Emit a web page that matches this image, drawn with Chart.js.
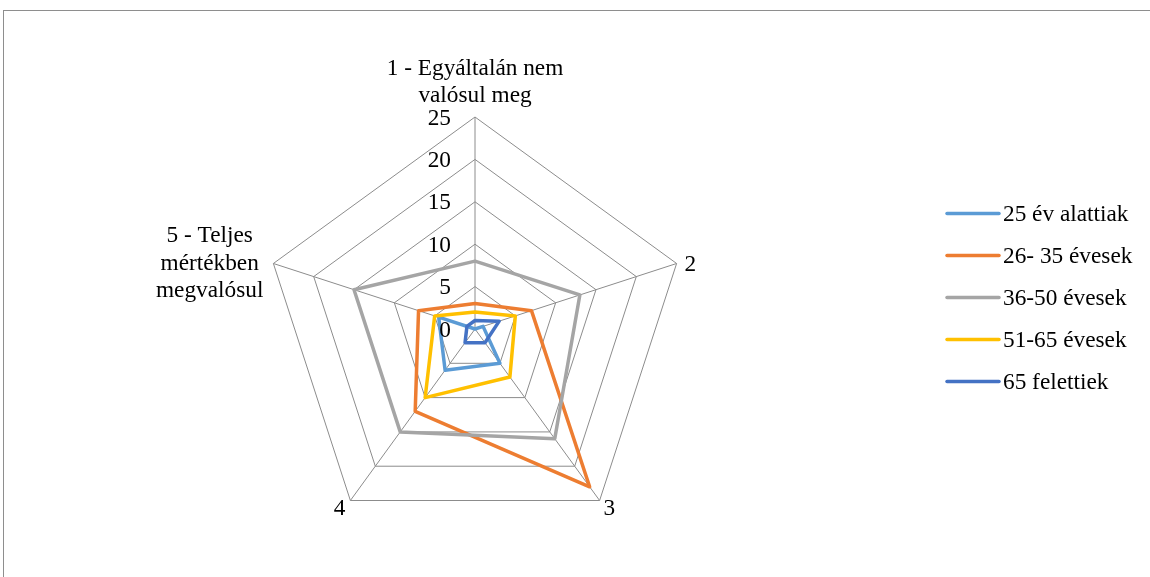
<!DOCTYPE html>
<html>
<head>
<meta charset="utf-8">
<script src="https://cdn.jsdelivr.net/npm/chart.js@4.4.1/dist/chart.umd.min.js"></script>
<style>
  html, body { margin: 0; padding: 0; background: #fff; }
  #wrap { position: relative; width: 1150px; height: 577px; overflow: hidden; }
  #frame { position: absolute; left: 3px; top: 10px; width: 1200px; height: 600px; border-left: 1px solid #8e8e8e; border-top: 1px solid #8e8e8e; }
  canvas { position: absolute; left: 0; top: 0; }
</style>
</head>
<body>
<div id="wrap">
  <div id="frame"></div>
  <canvas id="c" width="1150" height="577"></canvas>
</div>
<script>
// ---- data ----
const categories = [
  ['1 - Egyáltalán nem', 'valósul meg'],
  ['2'],
  ['3'],
  ['4'],
  ['5 - Teljes', 'mértékben', 'megvalósul']
];
const seriesNames = ['25 év alattiak', '26- 35 évesek', '36-50 évesek', '51-65 évesek', '65 felettiek'];
const under25   = [0, 1, 5, 6, 4.5];
const age26to35 = [3, 7, 23, 12, 7];
const age36to50 = [8, 13, 16, 15, 15];
const age51to65 = [2, 5, 7, 10, 5];
const over65    = [1, 3, 2, 2, 1];
const tickValues = [0, 5, 10, 15, 20, 25];
const colors = ['#5B9BD5', '#ED7D31', '#A5A5A5', '#FFC000', '#4472C4'];

const seriesValues = [under25, age26to35, age36to50, age51to65, over65];
const FONT = '23.3px "Liberation Serif", "Times New Roman", serif';
const GRID = '#8c8c8c';

const labelsPlugin = {
  id: 'customLabels',
  afterDraw(chart) {
    const ctx = chart.ctx;
    const s = chart.scales.r;
    ctx.save();
    ctx.font = FONT;
    ctx.fillStyle = '#000';
    // tick labels
    ctx.textAlign = 'right';
    ctx.textBaseline = 'middle';
    tickValues.forEach(v => {
      const d = s.getDistanceFromCenterForValue(v);
      ctx.fillText(String(v), s.xCenter - 24, s.yCenter - d + 1.5);
    });
    // point labels
    categories.forEach((lines, i) => {
      const p = s.getPointPosition(i, s.drawingArea);
      ctx.textBaseline = 'alphabetic';
      if (i === 0) {
        ctx.textAlign = 'center';
        const n = lines.length;
        lines.forEach((t, k) => ctx.fillText(t, p.x, p.y - 15 - (n - 1 - k) * 26.7));
      } else if (i === 1) {
        ctx.textAlign = 'left';
        ctx.textBaseline = 'middle';
        ctx.fillText(lines[0], p.x + 8, p.y + 1);
      } else if (i === 2) {
        ctx.textAlign = 'left';
        ctx.fillText(lines[0], p.x + 4, p.y + 14);
      } else if (i === 3) {
        ctx.textAlign = 'right';
        ctx.fillText(lines[0], p.x - 5, p.y + 14);
      } else {
        const maxW = Math.max(...lines.map(t => ctx.measureText(t).width));
        const cx = p.x - 10 - maxW / 2;
        ctx.textAlign = 'center';
        lines.forEach((t, k) => ctx.fillText(t, cx, p.y - 21 + k * 27.2));
      }
    });
    // legend
    const rowY = [213.5, 255.5, 297.5, 339.5, 381.5];
    chart.data.datasets.forEach((ds, i) => {
      const y = rowY[i];
      ctx.strokeStyle = ds.borderColor;
      ctx.lineWidth = 3.5;
      ctx.lineCap = 'round';
      ctx.beginPath();
      ctx.moveTo(947, y);
      ctx.lineTo(999, y);
      ctx.stroke();
      ctx.textAlign = 'left';
      ctx.textBaseline = 'middle';
      ctx.fillStyle = '#000';
      ctx.fillText(ds.label, 1003, y + 1);
    });
    ctx.restore();
  }
};

new Chart(document.getElementById('c'), {
  type: 'radar',
  data: {
    labels: categories,
    datasets: seriesNames.map((name, i) => ({
      label: name,
      data: seriesValues[i],
      borderColor: colors[i],
      backgroundColor: 'rgba(0,0,0,0)',
      fill: false,
      borderWidth: 3.5,
      pointRadius: 0,
      pointHoverRadius: 0,
      order: seriesNames.length - i
    }))
  },
  options: {
    responsive: false,
    animation: false,
    devicePixelRatio: 1,
    layout: { padding: { left: 262.5, top: 116.5, right: 462.5, bottom: 35.5 } },
    plugins: { legend: { display: false }, tooltip: { enabled: false } },
    elements: { line: { tension: 0, borderJoinStyle: 'round' } },
    scales: {
      r: {
        min: 0,
        max: 25,
        ticks: { stepSize: 5, display: false },
        pointLabels: { display: false },
        grid: { color: GRID, lineWidth: 1 },
        angleLines: { color: GRID, lineWidth: 1 }
      }
    }
  },
  plugins: [labelsPlugin]
});
</script>
</body>
</html>
